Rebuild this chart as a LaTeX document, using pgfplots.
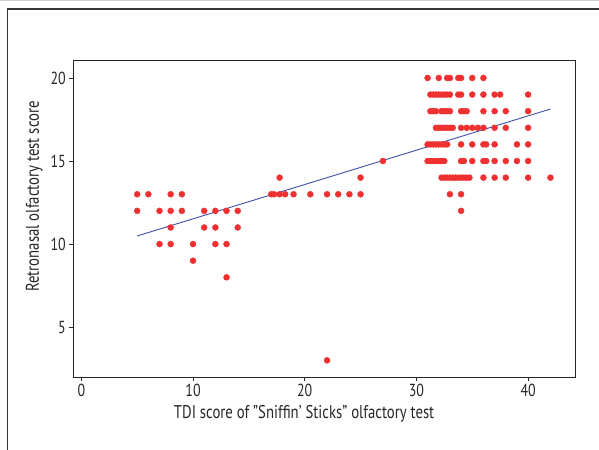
\documentclass[border=0pt]{standalone}
\usepackage{pgfplots}
\pgfplotsset{compat=1.18}
\usepackage{fontspec}
\setmainfont[FakeStretch=0.8]{PT Sans}
\definecolor{dotred}{RGB}{238,48,48}
\definecolor{fitblue}{RGB}{62,78,170}
\begin{document}
\begin{tikzpicture}[x=1bp,y=1bp]
\useasboundingbox (0,0) rectangle (599,450);
\draw[gray!35, line width=1.2bp] (0,449.6) -- (599,449.6);
\draw[black!80, line width=1.3bp] (7.3,-5) -- (7.3,441) -- (610,441);
\begin{axis}[
  at={(73.3bp,73bp)}, anchor=south west,
  scale only axis, width=501.7bp, height=316.3bp,
  xmin=-0.72, xmax=44.2, ymin=2, ymax=21.04,
  xtick={0,10,20,30,40}, ytick={5,10,15,20},
  tick align=outside, xtick pos=bottom, ytick pos=left,
  major tick length=4bp,
  axis line style={line width=0.9bp, black!85},
  tick style={line width=0.8bp, black!85},
  ticklabel style={font=\fontsize{17.5}{20}\selectfont, text=black!85},
  /pgf/number format/assume math mode=true,
  xlabel={TDI score of ”Sniffin’ Sticks” olfactory test},
  ylabel={Retronasal olfactory test score},
  label style={font=\fontsize{18.5}{21}\selectfont, text=black!85},
  xlabel style={at={(axis description cs:0.46,-0.117)}, anchor=center},
  ylabel style={at={(axis description cs:-0.078,0.571)}, anchor=center},
  clip=false,
]
\addplot[only marks, mark=*, mark size=3bp, color=dotred, mark options={draw=dotred, fill=dotred}] coordinates {
(5,13) (6,13) (8,13) (9,13)
(5,12) (7,12) (8,12) (9,12) (11,12) (12,12) (13,12) (14,12)
(8,11) (11,11) (12,11) (14,11)
(7,10) (8,10) (10,10) (12,10) (13,10)
(10,9) (13,8)
(17.75,14)
(17,13) (17.25,13) (17.75,13) (18.25,13) (19,13) (20.5,13) (22,13) (23,13) (24,13) (25,13)
(25,14) (27,15) (22,3)
(31,20) (32,20) (32.75,20) (33,20) (33.75,20) (34,20) (35,20) (36,20)
(31.25,19) (31.5,19) (31.75,19) (32,19) (32.25,19) (32.5,19) (32.75,19) (33,19) (33.75,19) (34,19) (35,19) (36,19) (37,19) (37.5,19) (40,19)
(31.25,18) (31.5,18) (31.75,18) (32.25,18) (32.5,18) (32.75,18) (33,18) (34,18) (34.25,18) (34.5,18) (36,18) (37,18) (38,18) (40,18)
(31.75,17) (32,17) (32.25,17) (32.5,17) (32.75,17) (33,17) (33.25,17) (34,17) (34.5,17) (35,17) (35.5,17) (36,17) (37,17) (38,17) (40,17)
(31,16) (31.25,16) (31.5,16) (31.75,16) (32,16) (32.25,16) (32.5,16) (32.75,16) (34,16) (35,16) (36,16) (36.25,16) (37,16) (39,16) (40,16)
(31,15) (31.25,15) (31.5,15) (31.75,15) (32,15) (32.25,15) (32.5,15) (34,15) (34.25,15) (35,15) (36,15) (36.25,15) (37,15) (38,15) (39,15) (40,15)
(32.25,14) (32.5,14) (32.75,14) (33,14) (33.25,14) (33.5,14) (33.75,14) (34,14) (34.25,14) (34.5,14) (34.75,14) (36,14) (37,14) (38,14) (40,14) (42,14)
(33,13) (34,13) (34,12)
};
\addplot[color=fitblue, line width=0.9bp] coordinates {(5,10.489) (42,18.13)};
\end{axis}
\end{tikzpicture}
\end{document}
